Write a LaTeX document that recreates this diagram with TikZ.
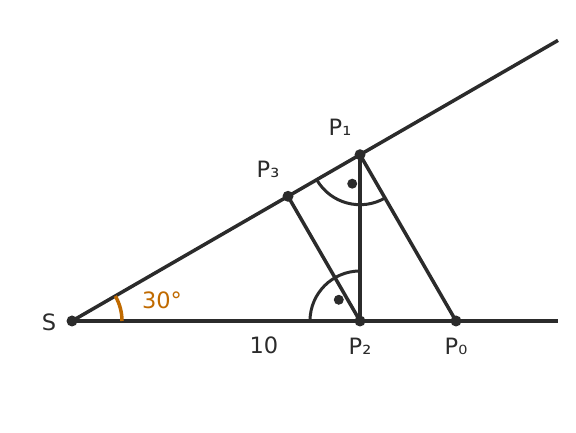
\documentclass[tikz,border=0pt]{standalone}
\usepackage{fontspec}
\setmainfont{DejaVu Sans}
\usetikzlibrary{calc}
\definecolor{ink}{HTML}{2B2B2B}
\definecolor{ang}{HTML}{C06A00}
\begin{document}
\begin{tikzpicture}[x=1pt,y=1pt,
  ln/.style={draw=ink,line width=3.5pt},
  mk/.style={draw=ink,line width=3pt},
  pt/.style={circle,fill=ink,inner sep=0pt,minimum size=11pt},
  rdot/.style={circle,fill=ink,inner sep=0pt,minimum size=10pt},
  lab/.style={text=ink,font=\fontsize{22.5}{24}\selectfont,inner sep=0pt}]
\useasboundingbox (0,0) rectangle (576,433);
\coordinate (S) at (72,112);
\coordinate (P2) at (360,112);
\coordinate (P1) at (360,278.28);
\coordinate (P3) at (288,236.7);
\coordinate (P0) at (456,112);
\coordinate (E1) at (558,392.6);
\coordinate (E2) at (558,112);
% right angle marks
\draw[mk] ($(P1)+(210:50)$) arc[start angle=210,end angle=300,radius=50];
\draw[mk] ($(P2)+(90:50)$) arc[start angle=90,end angle=180,radius=50];
\node[rdot] (d1) at ($(P1)+(255:30)$) {};
\node[rdot] (d2) at ($(P2)+(135:30)$) {};
% lines
\draw[ln] (S) -- (E2);
\draw[ln] (S) -- (E1);
\draw[ln] (P1) -- (P2);
\draw[ln] (P1) -- (P0);
\draw[ln] (P3) -- (P2);
% angle
\draw[draw=ang,line width=3.5pt] ($(S)+(0:50)$) arc[start angle=0,end angle=30,radius=50];
% points
\node[pt] (nS) at (S) {};
\node[pt] (nP1) at (P1) {};
\node[pt] (nP2) at (P2) {};
\node[pt] (nP3) at (P3) {};
\node[pt] (nP0) at (P0) {};
% labels
\node[lab] (lS) at (49,111) {S};
\node[lab] (lP1) at (340,306) {P₁};
\node[lab] (lP3) at (268,264) {P₃};
\node[lab] (lP2) at (360,87) {P₂};
\node[lab] (lP0) at (456,87) {P₀};
\node[lab] (l10) at (264,88) {10};
\node[lab,text=ang] (l30) at (162,133) {30°};
\end{tikzpicture}
\end{document}
